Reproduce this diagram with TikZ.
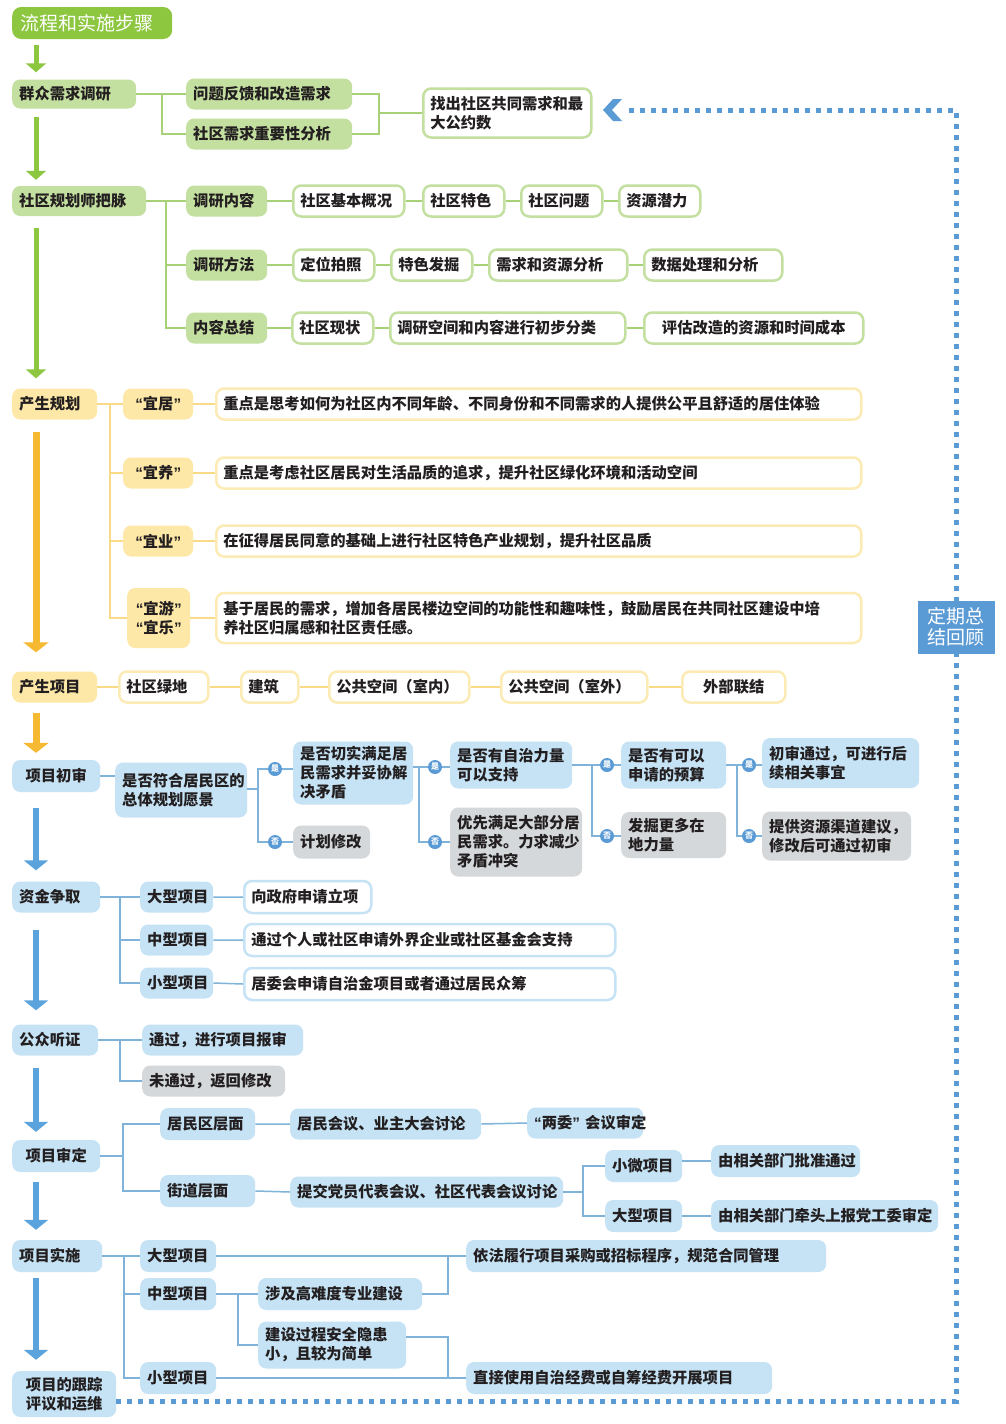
\documentclass[tikz,border=0pt]{standalone}
\usepackage{fontspec}
\setmainfont{Noto Sans CJK SC}
\newfontfamily\lat{Liberation Sans}
\usetikzlibrary{arrows.meta}
\definecolor{gD}{HTML}{8DC63F}
\definecolor{gL}{HTML}{C4E0A0}
\definecolor{gLine}{HTML}{A6D177}
\definecolor{yD}{HTML}{F6B932}
\definecolor{yL}{HTML}{FDE8A8}
\definecolor{yB}{HTML}{FCEBB5}
\definecolor{yLine}{HTML}{F8DA88}
\definecolor{bD}{HTML}{5BA3DC}
\definecolor{bL}{HTML}{C5E3F5}
\definecolor{bLine}{HTML}{7FB3DA}
\definecolor{grL}{HTML}{D4D8DA}
\definecolor{dotB}{HTML}{5B9BD5}
\definecolor{txt}{HTML}{231F20}
\newcommand\fs{\fontsize{15.3pt}{19pt}\selectfont\bfseries}
\newcommand\fsT{\fontsize{19pt}{21pt}\selectfont}
\newcommand\myLq{{\lat\bfseries “}}
\newcommand\myRq{{\lat\bfseries ”}}
\tikzset{
  base/.style={rounded corners=8pt, inner xsep=7pt, inner ysep=3pt, font=\fs, text=txt, align=left},
  gF/.style={base, fill=gL},
  gO/.style={base, fill=white, draw=gL, line width=2.5pt},
  yF/.style={base, fill=yL},
  yO/.style={base, fill=white, draw=yB, line width=2.5pt},
  bF/.style={base, fill=bL},
  bO/.style={base, fill=white, draw=bL, line width=2.5pt},
  grF/.style={base, fill=grL},
  gcon/.style={draw=gLine, line width=1.6pt},
  ycon/.style={draw=yLine, line width=1.6pt},
  bcon/.style={draw=bLine, line width=1.5pt},
  garr/.style={draw=gD, line width=5pt, -{Triangle[width=20pt,length=9pt]}},
  yarr/.style={draw=yD, line width=7pt, -{Triangle[width=25pt,length=10pt]}},
  barr/.style={draw=bD, line width=6pt, -{Triangle[width=24pt,length=10pt]}},
  yn/.style={circle, fill=dotB, text=white, inner sep=0pt, minimum size=14pt, font=\fontsize{8pt}{8pt}\selectfont\bfseries},
  dotl/.style={draw=dotB, line width=5pt, dash pattern=on 5pt off 6pt},
}
% \bx[opt]{style}{name}{x1}{x2}{yc}{h}{text}
\newcommand\bx[8][]{%
  \pgfmathsetmacro\tw{#5-#4-14}%
  \node[#2, anchor=west, text width=\tw pt, minimum height=#7pt, #1] (#3) at (#4,#6) {#8};}
\begin{document}
\begin{tikzpicture}[x=1pt,y=-1pt]
\useasboundingbox (0,0) rectangle (1005,1424);
\fill[white] (0,0) rectangle (1005,1424);
\coordinate (ax) at (36,0);
% ---------------- title
\node[fill=gD, rounded corners=9pt, text=white, font=\fsT, anchor=west, minimum height=32pt, inner xsep=8pt, align=left, text width=144pt] (title) at (12,23) {流程和实施步骤};
% ---------------- green part
\bx{gF}{a0}{12}{136}{94}{29}{群众需求调研}
\bx{gF}{a1}{186}{352}{94}{31}{问题反馈和改造需求}
\bx{gF}{a2}{186}{352}{134}{31}{社区需求重要性分析}
\bx{gO}{a3}{422}{590}{113}{49}{找出社区共同需求和最\\大公约数}
\bx{gF}{b0}{12}{146}{201}{30}{社区规划师把脉}
\bx{gF}{b1}{186}{267}{201}{31}{调研内容}
\bx{gO}{b11}{292}{403}{201}{31}{社区基本概况}
\bx{gO}{b12}{422}{503}{201}{31}{社区特色}
\bx{gO}{b13}{520}{601}{201}{31}{社区问题}
\bx{gO}{b14}{618}{699}{201}{31}{资源潜力}
\bx{gF}{b2}{186}{267}{265}{31}{调研方法}
\bx{gO}{b21}{292}{373}{265}{31}{定位拍照}
\bx{gO}{b22}{390}{471}{265}{31}{特色发掘}
\bx{gO}{b23}{488}{626}{265}{31}{需求和资源分析}
\bx{gO}{b24}{643}{781}{265}{31}{数据处理和分析}
\bx{gF}{b3}{186}{267}{328}{31}{内容总结}
\bx{gO}{b31}{291}{372}{328}{31}{社区现状}
\bx{gO}{b32}{389}{624}{328}{31}{调研空间和内容进行初步分类}
\bx[align=center]{gO}{b33}{643}{862}{328}{31}{评估改造的资源和时间成本}
\coordinate (ja) at (162,94);
\draw[gcon] (a0.east) -- (a1.west);
\draw[gcon] (ja) |- (a2.west);
\coordinate (jr) at (379,113);
\draw[gcon] (a1.east) -| (jr) |- (a2.east);
\draw[gcon] (jr) -- (a3.west);
\coordinate (jb) at (166,201);
\draw[gcon] (b0.east) -- (b1.west);
\draw[gcon] (jb) |- (b2.west);
\draw[gcon] (jb) |- (b3.west);
\draw[gcon] (b1.east) -- (b11.west) (b11.east) -- (b12.west) (b12.east) -- (b13.west) (b13.east) -- (b14.west);
\draw[gcon] (b2.east) -- (b21.west) (b21.east) -- (b22.west) (b22.east) -- (b23.west) (b23.east) -- (b24.west);
\draw[gcon] (b3.east) -- (b31.west) (b31.east) -- (b32.west) (b32.east) -- (b33.west);
% ---------------- yellow part
\bx{yF}{c0}{12}{97}{404}{31}{产生规划}
\node[yF, anchor=west, minimum width=70pt, minimum height=31pt, align=center, inner xsep=2pt] (c1) at (123,404) {\myLq 宜居\myRq};
\node[yF, anchor=west, minimum width=70pt, minimum height=31pt, align=center, inner xsep=2pt] (c2) at (123,473) {\myLq 宜养\myRq};
\node[yF, anchor=west, minimum width=70pt, minimum height=31pt, align=center, inner xsep=2pt] (c3) at (123,541) {\myLq 宜业\myRq};
\node[yF, anchor=west, minimum width=63pt, minimum height=60pt, align=center, inner xsep=2pt] (c4) at (127,618) {\myLq 宜游\myRq\\\myLq 宜乐\myRq};
\bx{yO}{d1}{215}{860}{404}{31}{重点是思考如何为社区内不同年龄、不同身份和不同需求的人提供公平且舒适的居住体验}
\bx{yO}{d2}{215}{860}{473}{31}{重点是考虑社区居民对生活品质的追求，提升社区绿化环境和活动空间}
\bx{yO}{d3}{215}{860}{541}{31}{在征得居民同意的基础上进行社区特色产业规划，提升社区品质}
\bx{yO}{d4}{215}{860}{618}{50}{基于居民的需求，增加各居民楼边空间的功能性和趣味性，鼓励居民在共同社区建设中培\\养社区归属感和社区责任感。}
\coordinate (jc) at (110,404);
\draw[ycon] (c0.east) -- (c1.west);
\draw[ycon] (jc) |- (c2.west);
\draw[ycon] (jc) |- (c3.west);
\draw[ycon] (jc) |- (c4.west);
\draw[ycon] (c1.east) -- (d1.west) (c2.east) -- (d2.west) (c3.east) -- (d3.west) (c4.east) -- (d4.west);
\bx{yF}{e0}{12}{97}{687}{31}{产生项目}
\bx{yO}{e1}{118}{207}{687}{31}{社区绿地}
\bx{yO}{e2}{240}{297}{687}{31}{建筑}
\bx{yO}{e3}{328}{468}{687}{31}{公共空间（室内）}
\bx{yO}{e4}{500}{646}{687}{31}{公共空间（室外）}
\bx[align=center]{yO}{e5}{681}{784}{687}{31}{外部联结}
\draw[ycon] (e0.east) -- (e1.west) (e1.east) -- (e2.west) (e2.east) -- (e3.west) (e3.east) -- (e4.west) (e4.east) -- (e5.west);
% ---------------- blue: first review
\bx[align=center]{bF}{p0}{12}{100}{776}{32}{项目初审}
\bx{bF}{p1}{115}{247}{790}{55}{是否符合居民区的\\总体规划愿景}
\bx{bF}{p2}{293}{413}{773}{63}{是否切实满足居\\民需求并妥协解\\决矛盾}
\bx{grF}{p2n}{293}{370}{842}{33}{计划修改}
\bx{bF}{p3}{450}{572}{765}{47}{是否有自治力量\\可以支持}
\bx{grF}{p3n}{450}{582}{842}{69}{优先满足大部分居\\民需求。力求减少\\矛盾冲突}
\bx{bF}{p4}{621}{726}{765}{47}{是否有可以\\申请的预算}
\bx{grF}{p4n}{621}{726}{835}{46}{发掘更多在\\地力量}
\bx{bF}{p5}{762}{919}{763}{50}{初审通过，可进行后\\续相关事宜}
\bx{grF}{p5n}{762}{911}{836}{49}{提供资源渠道建议，\\修改后可通过初审}
\node[yn] (q1) at (275,769) {是};
\node[yn] (q2) at (275,842) {否};
\node[yn] (q3) at (435,767) {是};
\node[yn] (q4) at (435,842) {否};
\node[yn] (q5) at (607,765) {是};
\node[yn] (q6) at (607,836) {否};
\node[yn] (q7) at (749,765) {是};
\node[yn] (q8) at (749,836) {否};
\coordinate (k1) at (258,789);
\coordinate (k2) at (419,767);
\coordinate (k3) at (592,765);
\coordinate (k4) at (737,765);
\draw[bcon] (p0.east) -- (p0.east -| p1.west);
\draw[bcon] (p1.east |- k1) -- (k1);
\draw[bcon] (q1.west) -| (k1) |- (q2.west);
\draw[bcon] (q1.east) -- (q1.east -| p2.west);
\draw[bcon] (q2.east) -- (q2.east -| p2n.west);
\draw[bcon] (k2 -| p2.east) -- (q3.west);
\draw[bcon] (k2) |- (q4.west);
\draw[bcon] (q3.east) -- (q3.east -| p3.west);
\draw[bcon] (q4.east) -- (q4.east -| p3n.west);
\draw[bcon] (k3 -| p3.east) -- (q5.west);
\draw[bcon] (k3) |- (q6.west);
\draw[bcon] (q5.east) -- (q5.east -| p4.west);
\draw[bcon] (q6.east) -- (q6.east -| p4n.west);
\draw[bcon] (k4 -| p4.east) -- (q7.west);
\draw[bcon] (k4) |- (q8.west);
\draw[bcon] (q7.east) -- (q7.east -| p5.west);
\draw[bcon] (q8.east) -- (q8.east -| p5n.west);
% ---------------- funding
\bx{bF}{f0}{12}{100}{897}{31}{资金争取}
\bx{bF}{f1}{140}{213}{897}{31}{大型项目}
\bx{bO}{f1d}{243}{370}{897}{32}{向政府申请立项}
\bx{bF}{f2}{140}{213}{940}{31}{中型项目}
\bx{bO}{f2d}{243}{614}{940}{32}{通过个人或社区申请外界企业或社区基金会支持}
\bx{bF}{f3}{140}{213}{983}{31}{小型项目}
\bx{bO}{f3d}{243}{614}{984}{32}{居委会申请自治金项目或者通过居民众筹}
\coordinate (kf) at (120,897);
\draw[bcon] (f0.east) -- (f1.west);
\draw[bcon] (kf) |- (f2.west);
\draw[bcon] (kf) |- (f3.west);
\draw[bcon] (f1.east) -- (f1d.west) (f2.east) -- (f2d.west) (f3.east) -- (f3d.west);
% ---------------- hearing
\bx{bF}{h0}{12}{98}{1040}{31}{公众听证}
\bx{bF}{h1}{142}{303}{1040}{31}{通过，进行项目报审}
\bx{grF}{h2}{142}{285}{1081}{31}{未通过，返回修改}
\coordinate (kh) at (120,1040);
\draw[bcon] (h0.east) -- (h1.west);
\draw[bcon] (kh) |- (h2.west);
% ---------------- approval
\bx[align=center]{bF}{r0}{12}{100}{1156}{32}{项目审定}
\bx{bF}{r1}{160}{255}{1124}{32}{居民区层面}
\bx{bF}{r2}{160}{255}{1191}{32}{街道层面}
\bx{bF}{r11}{290}{481}{1124}{31}{居民会议、业主大会讨论}
\bx{bF}{r12}{527}{643}{1123}{31}{\mbox{\myLq 两委\myRq~会议审定}}
\bx{bF}{r21}{290}{563}{1192}{31}{提交党员代表会议、社区代表会议讨论}
\bx{bF}{r3}{605}{682}{1166}{32}{小微项目}
\bx{bF}{r4}{605}{682}{1216}{32}{大型项目}
\bx{bF}{r31}{711}{860}{1161}{32}{由相关部门批准通过}
\bx{bF}{r41}{711}{938}{1216}{32}{由相关部门牵头上报党工委审定}
\coordinate (kr) at (123,1156);
\draw[bcon] (r0.east) -- (kr);
\draw[bcon] (r1.west) -| (kr) |- (r2.west);
\draw[bcon] (r1.east) -- (r11.west) (r11.east) -- (r12.west) (r2.east) -- (r21.west);
\coordinate (ks) at (583,1192);
\draw[bcon] (r21.east) -- (ks);
\draw[bcon] (r3.west) -| (ks) |- (r4.west);
\draw[bcon] (r3.east |- r31.west) -- (r31.west);
\draw[bcon] (r4.east) -- (r41.west);
% ---------------- implementation
\bx{bF}{m0}{12}{102}{1256}{32}{项目实施}
\bx{bF}{m1}{140}{216}{1256}{32}{大型项目}
\bx{bF}{m2}{140}{216}{1294}{32}{中型项目}
\bx{bF}{m3}{140}{216}{1378}{32}{小型项目}
\bx{bF}{m11}{466}{826}{1256}{32}{依法履行项目采购或招标程序，规范合同管理}
\bx{bF}{m21}{258}{422}{1294}{32}{涉及高难度专业建设}
\bx{bF}{m22}{258}{406}{1345}{47}{建设过程安全隐患\\小，且较为简单}
\bx{bF}{m31}{466}{772}{1378}{32}{直接使用自治经费或自筹经费开展项目}
\bx[align=center]{bF}{t0}{12}{116}{1394}{46}{项目的跟踪\\评议和运维}
\coordinate (km) at (124,1256);
\coordinate (kn) at (238,1294);
\coordinate (kp) at (448,1256);
\coordinate (kq) at (448,1378);
\draw[bcon] (m0.east) -- (m1.west);
\draw[bcon] (km) |- (m2.west);
\draw[bcon] (km) |- (m3.west);
\draw[bcon] (m1.east) -- (m11.west);
\draw[bcon] (m2.east) -- (m21.west);
\draw[bcon] (kn) |- (m22.west);
\draw[bcon] (m21.east) -| (kp);
\draw[bcon] ([yshift=8pt]m22.east) -| (kq);
\draw[bcon] (m3.east) -- (m31.west);
% ---------------- stage arrows
\draw[garr] ([yshift=-6pt]title.south -| ax) -- ([yshift=7pt]a0.north -| ax);
\draw[garr] ([yshift=-8pt]a0.south -| ax) -- ([yshift=6pt]b0.north -| ax);
\draw[garr] ([yshift=-12pt]b0.south -| ax) -- ([yshift=10pt]c0.north -| ax);
\draw[yarr] ([yshift=-12pt]c0.south -| ax) -- ([yshift=19pt]e0.north -| ax);
\draw[yarr] ([yshift=-10pt]e0.south -| ax) -- ([yshift=7pt]p0.north -| ax);
\draw[barr] ([yshift=-16pt]p0.south -| ax) -- ([yshift=11pt]f0.north -| ax);
\draw[barr] ([yshift=-17pt]f0.south -| ax) -- ([yshift=14pt]h0.north -| ax);
\draw[barr] ([yshift=-12pt]h0.south -| ax) -- ([yshift=8pt]r0.north -| ax);
\draw[barr] ([yshift=-10pt]r0.south -| ax) -- ([yshift=10pt]m0.north -| ax);
\draw[barr] ([yshift=-6pt]m0.south -| ax) -- ([yshift=11pt]t0.north -| ax);
% ---------------- periodic review loop
\coordinate (dTR) at (956,110);
\coordinate (dBR) at (956,1401);
\coordinate (dAr) at (628,110);
\draw[dotl] (t0.east |- dBR) -- (dBR) -- (dTR) -- (dAr);
\fill[dotB, shift={(622,110)}] (-19,0) -- (-9,-11) -- (0,-11) -- (-10,0) -- (0,11) -- (-9,11) -- cycle;
\node[fill=dotB, text=white, font=\fsT, align=center, minimum width=77pt, minimum height=53pt, inner sep=2pt] (sum) at (956,627) {定期总\\结回顾};
\end{tikzpicture}
\end{document}
